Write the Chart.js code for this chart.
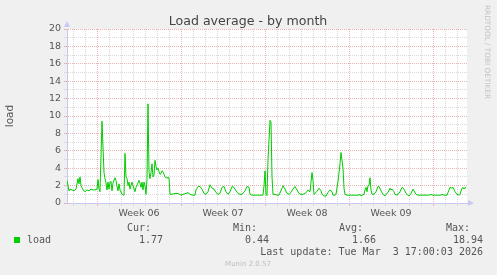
<!DOCTYPE html>
<html>
<head>
<meta charset="utf-8">
<script src="https://cdn.jsdelivr.net/npm/chart.js@4"></script>
<style>
  html, body { margin: 0; padding: 0; background: #f0f0f0; }
  #wrap { width: 497px; height: 275px; }
</style>
</head>
<body>
<div id="wrap"><canvas id="loadChart" width="497" height="275"></canvas></div>
<script>
// hours since the start of the month window (one sample every 2 h)
const hours = [
    0, 4, 6, 10, 14, 18, 22, 24, 26, 28, 32, 36, 40, 44, 48, 52, 56, 60, 62, 64,
    66, 70, 74, 76, 78, 80, 82, 84, 86, 88, 90, 92, 96, 98, 100, 102, 104, 106, 110, 114,
    116, 118, 120, 122, 124, 126, 128, 130, 132, 136, 138, 142, 144, 146, 148, 150, 152, 154, 156, 158,
    160, 162, 164, 166, 168, 170, 172, 174, 176, 178, 180, 182, 184, 186, 188, 190, 192, 194, 196, 198,
    204, 206, 210, 216, 222, 228, 232, 238, 242, 246, 252, 256, 258, 262, 266, 270, 274, 278, 282, 286,
    290, 294, 298, 302, 306, 310, 314, 318, 322, 326, 330, 334, 338, 342, 346, 350, 356, 360, 364, 366,
    370, 376, 382, 386, 392, 394, 396, 398, 400, 402, 406, 408, 410, 412, 416, 420, 424, 430, 432, 436,
    440, 444, 448, 452, 456, 460, 464, 468, 472, 476, 480, 482, 486, 490, 492, 494, 498, 502, 504, 508,
    510, 514, 518, 522, 526, 530, 532, 536, 538, 542, 546, 548, 552, 554, 556, 560, 584, 586, 588, 590,
    594, 596, 598, 600, 602, 604, 606, 608, 610, 614, 618, 622, 624, 628, 632, 636, 638, 642, 646, 648,
    650, 654, 656, 660, 662, 666, 670, 674, 678, 680, 684, 688, 692, 694, 698, 702, 712, 724, 728, 730,
    738, 748, 750, 754, 760, 762, 766, 770, 772, 776, 780, 784, 786, 790, 792, 794, 796, 798
];
const load = [
    2.6, 1.4, 1.6, 1.5, 1.4, 1.6, 2.8, 2.2, 3.0, 2.0, 1.5, 1.3, 1.5, 1.4, 1.6, 1.5, 1.5, 1.6, 2.7, 1.6,
    1.3, 9.4, 3.5, 2.8, 2.3, 1.5, 2.4, 1.6, 2.4, 2.5, 1.4, 2.3, 2.9, 2.6, 1.9, 1.4, 2.2, 1.5, 1.0, 0.9,
    5.7, 3.0, 2.8, 2.0, 2.4, 1.6, 2.0, 2.4, 2.0, 1.3, 1.8, 2.3, 2.6, 2.3, 1.8, 2.4, 1.5, 2.4, 2.0, 1.0,
    2.8, 11.4, 3.6, 2.8, 3.5, 4.5, 3.0, 3.2, 4.9, 4.2, 3.8, 4.0, 3.6, 3.3, 3.4, 3.7, 3.6, 3.3, 3.0, 2.9,
    2.9, 1.0, 1.0, 1.1, 1.1, 0.9, 1.0, 1.1, 1.2, 1.0, 0.9, 0.9, 1.5, 1.9, 1.9, 1.6, 1.1, 1.0, 1.3, 2.1,
    1.7, 1.6, 1.2, 1.0, 1.1, 1.8, 1.9, 1.3, 1.0, 1.3, 1.9, 1.8, 1.4, 1.1, 1.0, 1.0, 1.4, 1.9, 1.8, 1.0,
    0.9, 0.9, 0.9, 0.9, 0.9, 2.0, 3.7, 1.0, 0.85, 5.0, 9.5, 9.3, 3.0, 1.0, 1.0, 0.9, 0.9, 1.7, 2.0, 1.6,
    1.1, 1.0, 1.2, 1.6, 1.9, 1.5, 1.1, 1.0, 1.0, 1.1, 1.3, 1.5, 1.3, 3.5, 2.6, 1.0, 1.2, 1.5, 1.7, 1.4,
    1.0, 0.8, 0.8, 1.2, 1.5, 1.3, 0.9, 0.9, 1.0, 2.5, 4.5, 5.8, 4.0, 1.7, 1.0, 0.9, 0.9, 1.0, 0.8, 0.9,
    1.0, 1.5, 1.8, 1.3, 2.0, 2.0, 2.9, 1.5, 1.0, 1.0, 1.3, 1.9, 1.9, 1.4, 1.0, 0.8, 1.0, 1.2, 1.7, 1.5,
    1.6, 1.3, 1.0, 0.9, 1.0, 1.3, 1.8, 1.6, 1.1, 1.0, 0.8, 1.1, 1.6, 1.4, 1.0, 0.9, 0.9, 0.9, 1.0, 0.9,
    0.9, 0.9, 1.0, 0.9, 0.9, 1.2, 1.8, 1.7, 1.8, 1.3, 1.0, 0.9, 1.0, 1.7, 1.8, 1.6, 1.8, 1.7
];
const weekTicks = [144, 312, 480, 648];
const weekLabels = ['Week 06', 'Week 07', 'Week 08', 'Week 09'];
const statNames = ['Cur:', 'Min:', 'Avg:', 'Max:'];
const statValues = ['1.77', '0.44', '1.66', '18.94'];
const seriesName = 'load';
const lastUpdate = 'Last update: Tue Mar  3 17:00:03 2026';

const RED_GRID = '#ebb4b4';
const GREY_GRID = '#dadada';
const AXIS = '#c8c8f4';
const GREEN = '#00cc00';

// day lines fall at hour 12 + 24k, week boundaries at hour 60 + 168k
function xGridColor(ctx) {
    const v = ctx.tick ? ctx.tick.value : -1;
    if ((v - 12) % 24 !== 0) return 'transparent';
    return (v - 60) % 168 === 0 ? RED_GRID : GREY_GRID;
}

const muninDecor = {
    id: 'muninDecor',
    beforeDraw(chart) {
        const { ctx, chartArea: a } = chart;
        ctx.save();
        ctx.fillStyle = '#f0f0f0';
        ctx.fillRect(0, 0, chart.width, chart.height);
        ctx.fillStyle = '#ffffff';
        ctx.fillRect(a.left, a.top, a.right - a.left, a.bottom - a.top);
        ctx.restore();
    },
    afterDraw(chart) {
        const { ctx, chartArea: a } = chart;
        ctx.save();

        // axis arrows
        ctx.fillStyle = AXIS;
        ctx.beginPath();
        ctx.moveTo(a.left, a.top - 8);
        ctx.lineTo(a.left - 3, a.top - 2);
        ctx.lineTo(a.left + 3, a.top - 2);
        ctx.closePath();
        ctx.fill();
        ctx.beginPath();
        ctx.moveTo(a.right + 7, a.bottom);
        ctx.lineTo(a.right + 1, a.bottom - 3);
        ctx.lineTo(a.right + 1, a.bottom + 3);
        ctx.closePath();
        ctx.fill();

        // title
        ctx.fillStyle = '#444';
        ctx.font = '12.6px "DejaVu Sans"';
        ctx.textAlign = 'center';
        ctx.textBaseline = 'alphabetic';
        ctx.fillText('Load average - by month', 248, 25);

        // vertical watermark
        ctx.save();
        ctx.translate(485, 5);
        ctx.rotate(Math.PI / 2);
        ctx.fillStyle = '#c4c4c4';
        ctx.font = '7.3px "DejaVu Sans"';
        ctx.textAlign = 'left';
        ctx.textBaseline = 'alphabetic';
        ctx.fillText('RRDTOOL / TOBI OETIKER', 0, 0);
        ctx.restore();

        // legend table
        ctx.font = '10px "DejaVu Sans Mono"';
        ctx.fillStyle = '#555';
        ctx.textBaseline = 'middle';
        ctx.textAlign = 'right';
        const headRight = [151, 257, 363, 470];
        const valRight = [163, 269, 376, 483];
        statNames.forEach((n, i) => ctx.fillText(n, headRight[i], 228));
        statValues.forEach((v, i) => ctx.fillText(v, valRight[i], 240));
        ctx.fillText(lastUpdate, 483, 252);
        ctx.textAlign = 'left';
        ctx.fillText(seriesName, 27, 240);
        ctx.fillStyle = GREEN;
        ctx.fillRect(14, 237, 6, 6);

        ctx.fillStyle = '#bdbdbd';
        ctx.font = '7px "DejaVu Sans"';
        ctx.textAlign = 'center';
        ctx.fillText('Munin 2.0.57', 248, 264);
        ctx.restore();
    }
};

new Chart(document.getElementById('loadChart').getContext('2d'), {
    type: 'line',
    data: {
        datasets: [{
            label: seriesName,
            data: hours.map((h, i) => ({ x: h, y: load[i] })),
            borderColor: GREEN,
            borderWidth: 1,
            pointRadius: 0,
            tension: 0,
            fill: false
        }]
    },
    options: {
        responsive: false,
        animation: false,
        events: [],
        layout: { padding: { left: 0, top: 29, right: 30, bottom: 0 } },
        plugins: {
            legend: { display: false },
            title: { display: false },
            tooltip: { enabled: false }
        },
        scales: {
            x: {
                type: 'linear',
                min: 0,
                max: 800,
                afterFit: s => { s.height = 72; },
                afterBuildTicks: s => {
                    const t = [];
                    for (let v = 0; v <= 800; v += 12) t.push({ value: v });
                    s.ticks = t;
                },
                grid: { color: xGridColor, tickLength: 3, lineWidth: 1 },
                border: { display: true, color: AXIS, dash: [1, 1] },
                ticks: {
                    autoSkip: false,
                    maxRotation: 0,
                    padding: 2,
                    color: '#555',
                    font: { family: 'DejaVu Sans', size: 9.5 },
                    callback: v => {
                        const i = weekTicks.indexOf(v);
                        return i >= 0 ? weekLabels[i] : '';
                    }
                }
            },
            y: {
                min: 0,
                max: 20,
                afterFit: s => { s.width = 67; },
                grid: {
                    color: ctx => (ctx.tick && ctx.tick.value % 2 === 0) ? RED_GRID : GREY_GRID,
                    tickLength: 3
                },
                border: { display: true, color: AXIS, dash: [1, 1] },
                ticks: {
                    stepSize: 1,
                    autoSkip: false,
                    padding: 3,
                    color: '#555',
                    font: { family: 'DejaVu Sans', size: 9.5 },
                    callback: v => (v % 2 === 0 ? v : '')
                },
                title: {
                    display: true,
                    text: 'load',
                    color: '#555',
                    font: { family: 'DejaVu Sans', size: 10.5 },
                    padding: { top: 4, bottom: 0 }
                }
            }
        }
    },
    plugins: [muninDecor]
});
</script>
</body>
</html>
